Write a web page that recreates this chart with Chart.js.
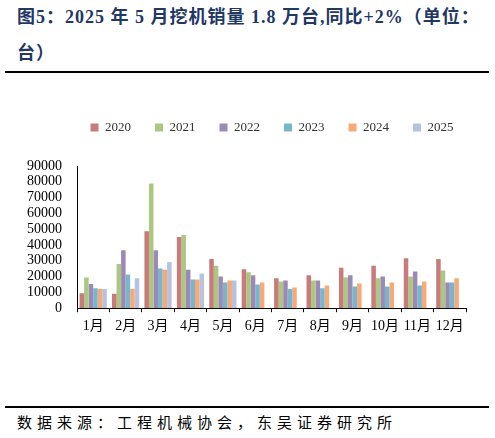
<!DOCTYPE html>
<html>
<head>
<meta charset="utf-8">
<script src="https://cdn.jsdelivr.net/npm/chart.js@4/dist/chart.umd.min.js"></script>
<style>
	html, body { margin: 0; padding: 0; background: #fff; }
	body { width: 495px; height: 438px; position: relative; overflow: hidden; }
	.title {
		position: absolute; left: 17px; top: -1px; width: 478px;
		font-family: "Liberation Serif", "Noto Sans CJK SC", serif;
		font-weight: bold; font-size: 18px; line-height: 36px; color: #1F3864;
		letter-spacing: 1px; white-space: nowrap;
	}
	.rule { position: absolute; left: 5px; width: 484px; height: 2px; background: #000; }
	.source {
		position: absolute; left: 17px; top: 411px;
		font-family: "Liberation Serif", "Noto Sans CJK SC", serif;
		font-size: 15px; color: #000; letter-spacing: 5px; white-space: nowrap;
	}
	#chart_box { position: absolute; left: 0; top: 97px; width: 495px; height: 244px; }
</style>
</head>
<body>

<div class="title">图5：2025 年 5 月挖机销量 1.8 万台,同比+2%（单位：<br>台）</div>
<div class="rule" style="top:71px"></div>
<div id="chart_box"><canvas id="graph_canvas"></canvas></div>
<div class="rule" style="top:406px"></div>
<div class="source">数据来源：工程机械协会，东吴证券研究所</div>

<script>
"use strict";

// categories
const months = ["1月","2月","3月","4月","5月","6月","7月","8月","9月","10月","11月","12月"]

// monthly excavator sales (units)
const sales_2020 = [9500, 9100, 48700, 45100, 31100, 24600, 18900, 20800, 25600, 26900, 31600, 31100]
const sales_2021 = [19500, 28000, 79000, 46400, 26900, 22700, 16900, 17600, 19500, 18900, 20100, 23900]
const sales_2022 = [15300, 36700, 36700, 24400, 20100, 20800, 17600, 17600, 20800, 20100, 23300, 16300]
const sales_2023 = [12700, 21400, 25200, 18200, 16300, 15000, 12100, 12700, 13800, 13800, 14400, 16300]
const sales_2024 = [12100, 12100, 24400, 18200, 17600, 16300, 13100, 14400, 15700, 16300, 16900, 18900]
const sales_2025 = [12100, 18900, 29200, 22000, 17600, null, null, null, null, null, null, null]

const year_labels = ["2020","2021","2022","2023","2024","2025"]
const year_colors = ["#C97A7B","#ABC781","#9D89B8","#76B7CC","#F9A977","#B3C3E0"]

const serif = '"Liberation Serif", "Noto Sans CJK SC", serif'

// extra room under the legend, and legend shifted right
const legend_margin = {
	id : "legend_margin",
	beforeInit : function(chart) {
		const fit = chart.legend.fit
		chart.legend.fit = function() {
			fit.bind(chart.legend)()
			this.height += 22
		}
	},
	afterLayout : function(chart) {
		chart.legend.left += 39
		chart.legend.right += 39
	}
}

const series = [sales_2020, sales_2021, sales_2022, sales_2023, sales_2024, sales_2025]

const chart = new Chart(document.getElementById("graph_canvas"), {
	type : "bar",
	data : {
		labels : months,
		datasets : series.map((values, i) => ({
			label				: year_labels[i],
			data				: values,
			backgroundColor		: year_colors[i],
			categoryPercentage	: 0.84,
			barPercentage		: 1
		}))
	},
	plugins : [legend_margin],
	options : {
		responsive : true,
		maintainAspectRatio : false,
		animation : false,
		layout : { padding : { left: 0, right: 29, top: 0, bottom: 0 } },
		scales : {
			x : {
				border : { color: "#000", width: 1 },
				grid : {
					offset : true,
					drawOnChartArea : false,
					drawTicks : true,
					tickLength : 4,
					color : "#000"
				},
				ticks : {
					color : "#000",
					font : { family: serif, size: 14 },
					padding : 6,
					maxRotation : 0,
					autoSkip : false
				}
			},
			y : {
				min : 0,
				max : 90000,
				border : { color: "#000", width: 1 },
				grid : { display: false, drawTicks: false },
				ticks : {
					stepSize : 10000,
					autoSkip : false,
					color : "#000",
					font : { family: serif, size: 14 },
					padding : 15,
					callback : (value) => String(value)
				},
				afterFit : function(scale) {
					scale.width = 77
				}
			}
		},
		plugins : {
			legend : {
				position : "top",
				labels : {
					boxWidth : 8,
					boxHeight : 8,
					padding : 24,
					color : "#333",
					font : { family: serif, size: 13 }
				}
			},
			tooltip : { enabled: false }
		}
	}
})
</script>
</body>
</html>
